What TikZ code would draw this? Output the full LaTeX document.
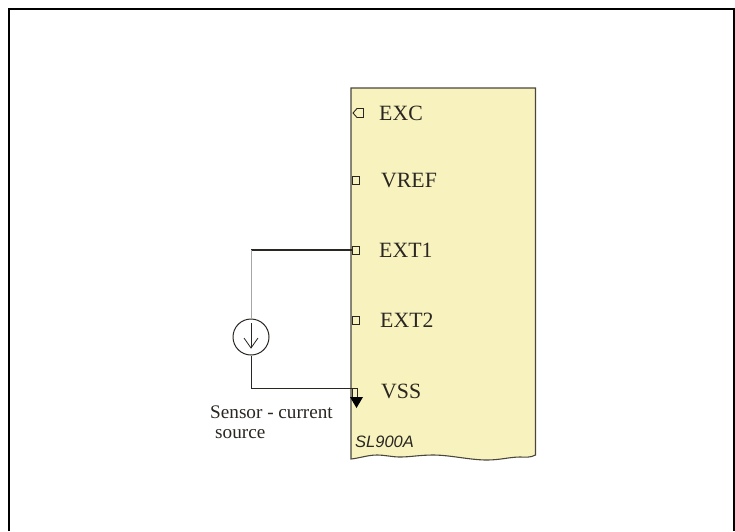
\documentclass[tikz,border=0pt]{standalone}
\usepackage{fontspec}
\setmainfont{Liberation Serif}
\setsansfont{Liberation Sans}
\definecolor{chipfill}{HTML}{F8F3BE}
\definecolor{chipline}{HTML}{4A463C}
\definecolor{inkdark}{HTML}{2A2622}

\begin{document}
\begin{tikzpicture}[x=1pt,y=-1pt,line join=miter,draw=inkdark,text=inkdark]
        \tikzstyle{pin box}=[rectangle,draw=inkdark,line width=0.9pt,fill=chipfill,minimum width=6.5pt,minimum height=8pt,inner sep=0pt,anchor=west]
        \tikzstyle{pin name}=[font=\fontsize{21.8}{24}\selectfont,inner sep=0pt,anchor=west]
        \tikzstyle{note}=[font=\fontsize{19.2}{21}\selectfont,inner sep=0pt,anchor=west]
        \tikzstyle{source}=[circle,draw=inkdark,line width=1pt,minimum size=36pt,inner sep=0pt]

        \useasboundingbox (0,0) rectangle (735,531);

        % Draw the outer frame, it is open at the bottom
        \draw[black,line width=2.2pt] (9,531) -- (9,9) -- (734,9) -- (734,531);

        % Draw the chip body
        \draw[chipline,fill=chipfill,line width=1.1pt] (351,88) -- (535.5,88) -- (535.5,455)
            .. controls (530,458) and (525,457) .. (520,457)
            .. controls (510,457) and (500,460) .. (487,460)
            .. controls (470,460) and (450,455) .. (433,455)
            .. controls (420,455) and (410,457) .. (400,457)
            .. controls (392,457) and (385,455) .. (377,455)
            .. controls (368,455) and (360,458) .. (351,459) -- cycle;

        % Draw the EXC pin
        \draw[inkdark,line width=0.9pt] (353,113) -- (357,108.5) -- (363.5,108.5) -- (363.5,117.5) -- (357,117.5) -- cycle;
        \node[pin name] (EXC) at (379,113.5) {EXC};

        % Draw the other pins
        \foreach \name / \y / \x in {VREF/180.5/381,EXT1/250/379,EXT2/320/380}
        {
            \node[pin box] (P-\name) at (352,\y) {};
            \node[pin name] (\name) at (\x,\y+0.5) {\name};
        }
        \node[pin name] (VSS) at (381,391) {VSS};
        \node[pin box,minimum width=4.5pt,minimum height=9pt,anchor=north west] (P-VSS) at (352,388) {};
        \fill[black] (350,397) -- (363,397) -- (356.5,408) -- cycle;

        % Draw the current source
        \node[source] (S) at (251,337) {};
        \draw[line width=0.8pt] (251,323) -- (251,348);
        \draw[line width=0.8pt] (244,338) -- (251,348) -- (258,338);

        % Connect the source with the pins
        \coordinate (C-top) at (251,250);
        \draw[line width=2.4pt] (C-top) -- (P-EXT1.west);
        \draw[black!35,line width=0.9pt] (C-top) -- (S.north);
        \draw[line width=1pt] (S.south) |- (P-VSS.north west);

        % Annotate the sensor and the chip
        \node[note] (sensor) at (210,412.5) {Sensor - current};
        \node[note] (sourcetext) at (215,434) {source};
        \node[font=\sffamily\itshape\fontsize{16.5}{18}\selectfont,inner sep=0pt,anchor=west] (chipname) at (355,442) {SL900A};
\end{tikzpicture}
\end{document}
